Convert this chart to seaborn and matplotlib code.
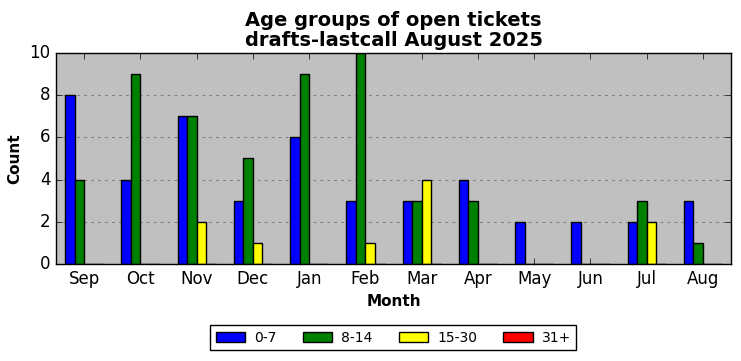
import matplotlib
matplotlib.use("Agg")
import matplotlib.pyplot as plt
import seaborn as sns
import pandas as pd

months = ["Sep", "Oct", "Nov", "Dec", "Jan", "Feb", "Mar", "Apr", "May", "Jun", "Jul", "Aug"]
groups = ["0-7", "8-14", "15-30", "31+"]
age_0_7 = [8, 4, 7, 3, 6, 3, 3, 4, 2, 2, 2, 3]
age_8_14 = [4, 9, 7, 5, 9, 10, 3, 3, 0, 0, 3, 1]
age_15_30 = [0, 0, 2, 1, 0, 1, 4, 0, 0, 0, 2, 0]
age_31p = [0, 0, 0, 0, 0, 0, 0, 0, 0, 0, 0, 0]
colors = ["blue", "green", "yellow", "red"]

series = [age_0_7, age_8_14, age_15_30, age_31p]
rows = []
for g, vals in zip(groups, series):
    for m, v in zip(months, vals):
        rows.append({"Month": m, "Group": g, "Count": v})
df = pd.DataFrame(rows)

plt.style.use("classic")
plt.rcParams["font.family"] = ["DejaVu Sans"]

fig = plt.figure(figsize=(7.41, 3.61), dpi=100)
ax = fig.add_axes([0.0756, 0.2687, 0.9109, 0.5845])
ax.set_facecolor("#c0c0c0")
ax.set_axisbelow(True)

sns.barplot(data=df, x="Month", y="Count", hue="Group", order=months,
            hue_order=groups, palette=colors, width=0.68,
            edgecolor="black", linewidth=1, ax=ax, legend=True, saturation=1)

ax.set_xlim(-0.5, 11.5)
ax.set_ylim(0, 10)
ax.set_yticks([0, 2, 4, 6, 8, 10])
ax.yaxis.grid(True, color="#808080", linestyle=(0, (2, 3)), linewidth=0.8)
ax.xaxis.grid(False)
ax.set_xlabel("Month", fontsize=11, fontweight="bold")
ax.set_ylabel("Count", fontsize=11, fontweight="bold")
ax.tick_params(labelsize=12)
ax.set_title("Age groups of open tickets\ndrafts-lastcall August 2025",
             fontsize=14, fontweight="bold", linespacing=1.1)

handles, labels = ax.get_legend_handles_labels()
ax.get_legend().remove()
fig.legend(handles, labels, loc="center", bbox_to_anchor=(0.531, 0.064),
           ncol=4, fontsize=10, frameon=True, borderaxespad=0.3,
           handlelength=2.1, handletextpad=0.65, columnspacing=1.9)

fig.savefig("out.png", dpi=100, facecolor="white")
